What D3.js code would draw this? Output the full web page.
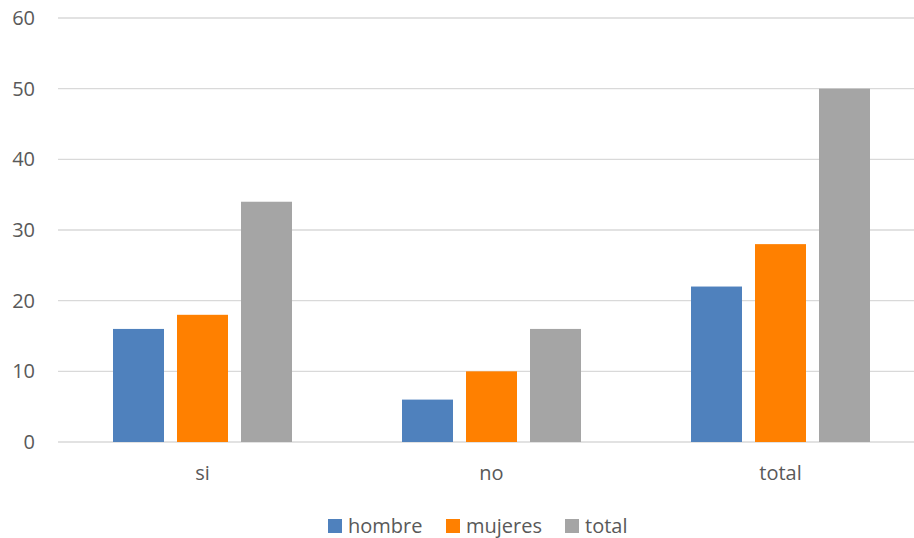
<!DOCTYPE html>
<html>
<head>
<meta charset="utf-8">
<script src="https://cdn.jsdelivr.net/npm/d3@7/dist/d3.min.js"></script>
<style>
  html, body { margin: 0; padding: 0; background: #fff; }
  svg text { font-family: "Open Sans", "Noto Sans", sans-serif; fill: #595959; }
</style>
</head>
<body>
<svg id="chart" width="914" height="538"></svg>
<script>
// Respuestas por grupo
const categories = ["si", "no", "total"];
const seriesNames = ["hombre", "mujeres", "total"];
const hombre = [16, 6, 22];
const mujeres = [18, 10, 28];
const total = [34, 16, 50];
const yTicks = [0, 10, 20, 30, 40, 50, 60];

const seriesValues = [hombre, mujeres, total];
const colors = ["#4F81BD", "#FF8000", "#A5A5A5"];

const svg = d3.select("#chart");
const plotLeft = 58, plotRight = 925, plotTop = 18, plotBottom = 442;

const x0 = d3.scaleBand().domain(categories).range([plotLeft, plotRight]).paddingInner(0).paddingOuter(0);
const groupWidth = 179;
const x1 = d3.scaleBand().domain(seriesNames)
  .range([(x0.bandwidth() - groupWidth) / 2, (x0.bandwidth() + groupWidth) / 2])
  .paddingInner(13 / 64).paddingOuter(0);
const y = d3.scaleLinear().domain([0, 60]).range([plotBottom, plotTop]);

// horizontal gridlines
svg.append("g").selectAll("line").data(yTicks).join("line")
  .attr("x1", plotLeft).attr("x2", plotRight)
  .attr("y1", d => y(d)).attr("y2", d => y(d))
  .attr("stroke", "#D9D9D9").attr("stroke-width", 1.3);

// y tick labels
svg.append("g").selectAll("text").data(yTicks).join("text")
  .attr("x", 35).attr("y", d => y(d)).attr("dy", "0.35em")
  .attr("text-anchor", "end").attr("font-size", 20)
  .text(d => d);

// bars
const groups = svg.append("g").selectAll("g").data(categories).join("g")
  .attr("transform", c => `translate(${x0(c)},0)`);
groups.selectAll("rect")
  .data((c, i) => seriesNames.map((s, j) => ({ s, v: seriesValues[j][i], color: colors[j] })))
  .join("rect")
  .attr("x", d => x1(d.s))
  .attr("width", x1.bandwidth())
  .attr("y", d => y(d.v))
  .attr("height", d => y(0) - y(d.v))
  .attr("fill", d => d.color);

// category labels
svg.append("g").selectAll("text").data(categories).join("text")
  .attr("x", c => x0(c) + x0.bandwidth() / 2).attr("y", 480)
  .attr("text-anchor", "middle").attr("font-size", 20)
  .text(c => c);

// legend
const legendItems = [
  { name: seriesNames[0], color: colors[0], x: 328 },
  { name: seriesNames[1], color: colors[1], x: 446 },
  { name: seriesNames[2], color: colors[2], x: 565 }
];
const lg = svg.append("g").selectAll("g").data(legendItems).join("g")
  .attr("transform", d => `translate(${d.x},0)`);
lg.append("rect").attr("x", 0).attr("y", 519).attr("width", 14).attr("height", 14)
  .attr("fill", d => d.color);
lg.append("text").attr("x", 20).attr("y", 533).attr("font-size", 20)
  .text(d => d.name);
</script>
</body>
</html>
